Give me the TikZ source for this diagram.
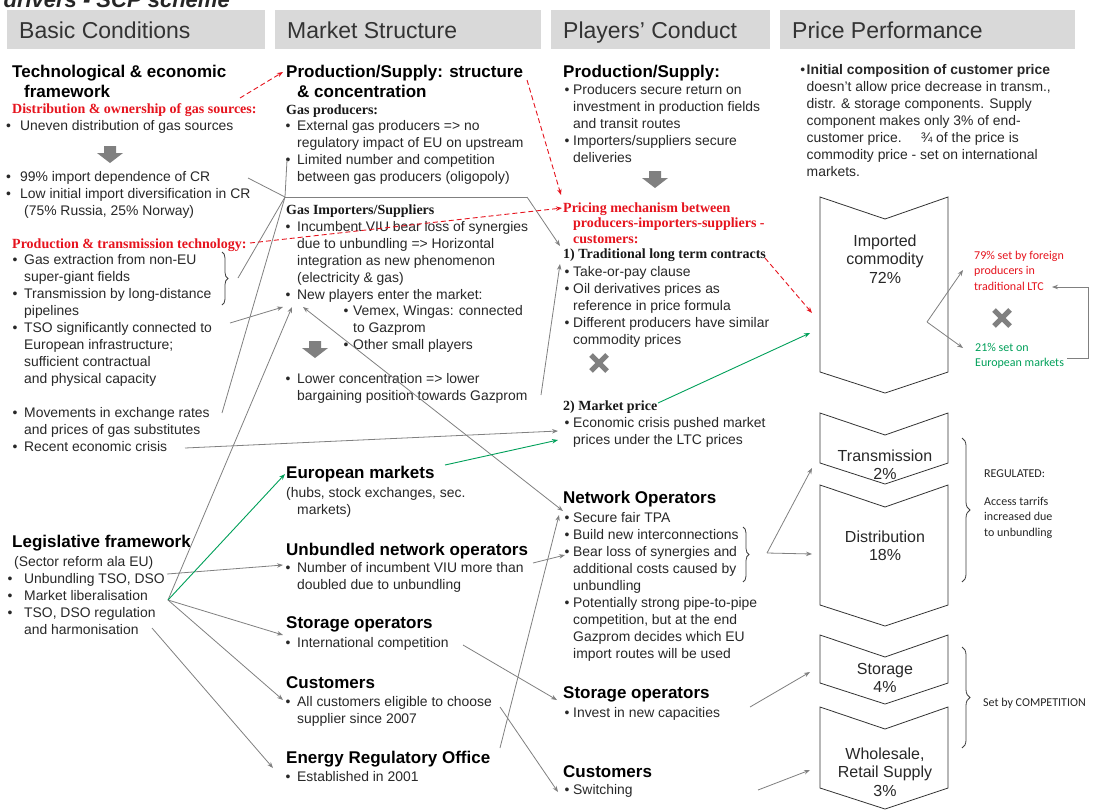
\documentclass[tikz,border=0pt]{standalone}
\usepackage{fontspec}
\setmainfont{Liberation Sans}
\newfontfamily\tnr{Liberation Serif}
\newfontfamily\calib{Carlito}
\usetikzlibrary{arrows.meta,decorations.pathreplacing}
\definecolor{hdr}{RGB}{217,217,217}
\definecolor{ln}{RGB}{128,128,128}
\definecolor{rd}{RGB}{230,20,30}
\definecolor{gr}{RGB}{0,160,90}
\definecolor{tx}{RGB}{40,40,40}
\newcommand\bwd{10}
\newcommand\bu{\makebox[\bwd pt][l]{•}}
\newcommand\ct{\hspace*{\bwd pt}}
\newcommand\chevron[2]{\draw[chev] (820,#1) -- (885,{#1+22}) -- (948,#1) -- (948,#2) -- (885,{#2+21}) -- (820,#2) -- cycle;}
\newcommand\blkdown[2]{\fill[ln] ({#1-6},#2) -- ({#1+6},#2) -- ({#1+6},{#2+7}) -- ({#1+13},{#2+7}) -- (#1,{#2+17}) -- ({#1-13},{#2+7}) -- ({#1-6},{#2+7}) -- cycle;}
\tikzset{
 bw/.code={\gdef\bwd{#1}},
 body/.style={font=\fontsize{13.9}{17}\selectfont, text=tx, align=left, inner sep=0pt, anchor=base west},
 head/.style={font=\fontsize{17}{20}\selectfont\bfseries, text=black, align=left, inner sep=0pt, anchor=base west},
 sub/.style={font=\tnr\fontsize{14}{15.5}\selectfont\bfseries, text=black!90, inner sep=0pt, anchor=base west, align=left},
 redsub/.style={sub, text=rd},
 hdrtxt/.style={font=\fontsize{23}{26}\selectfont, text=black!80, inner sep=0pt, anchor=base west},
 conn/.style={draw=ln, line width=0.8pt},
 arr/.style={conn, -{Stealth[length=6pt,width=4.5pt]}},
 darr/.style={conn, {Stealth[length=6pt,width=4.5pt]}-{Stealth[length=6pt,width=4.5pt]}},
 dred/.style={draw=rd, line width=0.9pt, dash pattern=on 5pt off 3pt, -{Stealth[length=6pt,width=4.5pt]}},
 grn/.style={draw=gr, line width=0.9pt, -{Stealth[length=6pt,width=4.5pt]}},
 chev/.style={draw=black!80, line width=0.8pt, fill=white},
 chevtxt/.style={font=\fontsize{16}{18.5}\selectfont, text=tx, align=center, inner sep=0pt, anchor=base},
 smallc/.style={font=\calib\fontsize{12}{15.5}\selectfont, inner sep=0pt, anchor=base west, align=left},
 xmark/.style={draw=ln, line width=5pt},
 brc/.style={draw=black!75, line width=0.8pt, decorate},
}
\begin{document}
\begin{tikzpicture}[x=1pt,y=-1pt]
\useasboundingbox (0,0) rectangle (1094,809);
\fill[white] (0,0) rectangle (1094,809);
% title (cut off at the top)
\node[font=\fontsize{22}{24}\selectfont\bfseries\itshape, text=black!85, anchor=base east, inner sep=0pt] (title) at (230,7) {drivers - SCP scheme};
% headers
\fill[hdr] (7,10) rectangle (265,49);
\fill[hdr] (275,10) rectangle (541,49);
\fill[hdr] (551,10) rectangle (770,49);
\fill[hdr] (780,10) rectangle (1075,49);
\node[hdrtxt] (h1) at (19,38) {Basic Conditions};
\node[hdrtxt] (h2) at (287,38) {Market Structure};
\node[hdrtxt] (h3) at (563,38) {Players' Conduct};
\node[hdrtxt] (h4) at (792,38) {Price Performance};

% ---------- column 1 (anchors are at the LAST line's baseline)
\node[head] (tech) at (12,97) {Technological \& economic\\\hspace*{12pt}framework};
\node[redsub] (distr) at (12,113) {Distribution \& ownership of gas sources:};
\node[body, bw=14] (uneven) at (6,130) {\bu Uneven distribution of gas sources};
\blkdown{110}{146}
\node[body, bw=14] (impd) at (6,215.5) {\bu 99\% import dependence of CR\\\bu Low initial import diversification in CR\\\hspace*{18pt}(75\% Russia, 25\% Norway)};
\node[redsub] (prodt) at (12,248) {Production \& transmission technology:};
\node[body, bw=11.5] (tsob) at (12.5,383.5) {\bu Gas extraction from non-EU\\\ct super-giant fields\\\bu Transmission by long-distance\\\ct pipelines\\\bu TSO significantly connected to\\\ct European infrastructure;\\\ct sufficient contractual\\\ct and physical capacity};
\draw[brc, decoration={brace, amplitude=6pt}] (222,252) -- (222,305);
\node[body, bw=11.5] (mov) at (12.5,451.5) {\bu Movements in exchange rates\\\ct and prices of gas substitutes\\\bu Recent economic crisis};
\node[head] (legis) at (12,547) {Legislative framework};
\node[body, bw=16.5] (legb) at (7.5,634) {\hspace*{6.5pt}(Sector reform ala EU)\\\bu Unbundling TSO, DSO\\\bu Market liberalisation\\\bu TSO, DSO regulation\\\ct and harmonisation};

% ---------- column 2
\node[head] (ps) at (286,97) {Production/Supply: structure\\\hspace*{11pt}\& concentration};
\node[sub] (gp) at (286,114) {Gas producers:};
\node[body, bw=11.5] (gpb) at (285.5,181.5) {\bu External gas producers => no\\\ct regulatory impact of EU on upstream\\\bu Limited number and competition\\\ct between gas producers (oligopoly)};
\node[sub] (gi) at (286,214) {Gas Importers/Suppliers};
\node[body, bw=11.5] (gib) at (285.5,299.5) {\bu Incumbent VIU bear loss of synergies\\\ct due to unbundling => Horizontal\\\ct integration as new phenomenon\\\ct (electricity \& gas)\\\bu New players enter the market:};
\node[body, bw=9.5] (vem) at (343.5,349.5) {\bu Vemex, Wingas: connected\\\ct to Gazprom\\\bu Other small players};
\blkdown{315}{341}
\node[body, bw=11.5] (low) at (285.5,400.5) {\bu Lower concentration => lower\\\ct bargaining position towards Gazprom};
\node[head] (eum) at (286,478) {European markets};
\node[body] (eumb) at (286,514.5) {(hubs, stock exchanges, sec.\\\hspace*{11pt}markets)};
\node[head] (uno) at (286,555) {Unbundled network operators};
\node[body, bw=11.5] (unob) at (285.5,589.5) {\bu Number of incumbent VIU more than\\\ct doubled due to unbundling};
\node[head] (so) at (286,628) {Storage operators};
\node[body, bw=11.5] (sob) at (285.5,647.5) {\bu International competition};
\node[head] (cu) at (286,688) {Customers};
\node[body, bw=11.5] (cub) at (285.5,723.5) {\bu All customers eligible to choose\\\ct supplier since 2007};
\node[head] (ero) at (286,763) {Energy Regulatory Office};
\node[body, bw=11.5] (erob) at (285.5,781.5) {\bu Established in 2001};

% ---------- column 3
\node[head] (ps3) at (563,77) {Production/Supply:};
\node[body, bw=8.5] (ps3b) at (564.5,162.5) {\bu Producers secure return on\\\ct investment in production fields\\\ct and transit routes\\\bu Importers/suppliers secure\\\ct deliveries};
\blkdown{655}{171}
\node[redsub] (pm) at (563,243) {Pricing mechanism between\\\hspace*{10pt}producers-importers-suppliers -\\\hspace*{10pt}customers:};
\node[sub] (ltc) at (563,258) {1) Traditional long term contracts};
\node[body, bw=8.5] (ltcb) at (564.5,344.5) {\bu Take-or-pay clause\\\bu Oil derivatives prices as\\\ct reference in price formula\\\bu Different producers have similar\\\ct commodity prices};
\draw[xmark] (591,355) -- (607,371);
\draw[xmark] (591,371) -- (607,355);
\node[sub] (mp) at (563,410) {2) Market price};
\node[body, bw=8.5] (mpb) at (564.5,444.5) {\bu Economic crisis pushed market\\\ct prices under the LTC prices};
\node[head] (no) at (563,503) {Network Operators};
\node[body, bw=8.5] (nob) at (564.5,658.5) {\bu Secure fair TPA\\\bu Build new interconnections\\\bu Bear loss of synergies and\\\ct additional costs caused by\\\ct unbundling\\\bu Potentially strong pipe-to-pipe\\\ct competition, but at the end\\\ct Gazprom decides which EU\\\ct import routes will be used};
\draw[brc, decoration={brace, amplitude=6pt}] (743,527) -- (743,582);
\node[head] (so3) at (563,698) {Storage operators};
\node[body, bw=8.5] (so3b) at (564.5,717.5) {\bu Invest in new capacities};
\node[head] (cu3) at (563,777) {Customers};
\node[body, bw=8.5] (cu3b) at (564.5,794.5) {\bu Switching};

% ---------- column 4
\node[body] (icp) at (806.5,176.5) {\llap{•\hspace{1.5pt}}\textbf{Initial composition of customer price}\\doesn't allow price decrease in transm.,\\distr. \& storage components. Supply\\component makes only 3\% of end-\\customer price.\hspace{1em} ¾ of the price is\\commodity price - set on international\\markets.};
\chevron{197}{372}
\node[chevtxt] (impc) at (885,283) {Imported\\commodity\\72\%};
\node[smallc, text=rd] (lt79) at (974,290) {79\% set by foreign\\producers in\\traditional LTC};
\node[smallc, text=gr] (eu21) at (975,366.5) {21\% set on\\European markets};
\draw[xmark] (994,310) -- (1010,326);
\draw[xmark] (994,326) -- (1010,310);
\chevron{413}{463}
\node[chevtxt] (trc) at (885,479.5) {Transmission\\2\%};
\chevron{485}{605}
\node[chevtxt] (dic) at (885,560.5) {Distribution\\18\%};
\chevron{635}{683}
\node[chevtxt] (stc) at (885,692.5) {Storage\\4\%};
\chevron{707}{788}
\node[chevtxt] (whc) at (885,796) {Wholesale,\\Retail Supply\\3\%};
\draw[brc, decoration={brace, amplitude=8pt}] (962,438) -- (962,582);
\draw[brc, decoration={brace, amplitude=8pt}] (962,647) -- (962,748);
\node[smallc, text=black!85] (reg) at (984,477) {REGULATED:};
\node[smallc, text=black!85] (acc) at (984,536) {Access tarrifs\\increased due\\to unbundling};
\node[smallc, text=black!85] (comp) at (983,706) {Set by COMPETITION};

% ---------- connector end points
\coordinate (hub) at (168,600);
\coordinate (cr) at (248,178);
\coordinate (lim) at (287,160);
\coordinate (br1) at (238,278);
\coordinate (rates) at (222,413);
\coordinate (busL) at (285,197);
\coordinate (busR) at (527,197);
\coordinate (ltcA) at (560,246);
\coordinate (gaz) at (541,395);
\coordinate (topA) at (560,264);
\coordinate (tsoE) at (230,323);
\coordinate (np1) at (283,307);
\coordinate (np2) at (292,307);
\coordinate (np3) at (303,307);
\coordinate (tpa) at (563,511);
\coordinate (crisis) at (185,448);
\coordinate (ecA) at (558,431);
\coordinate (soA) at (283,635);
\coordinate (cuA) at (283,700);
\coordinate (dso) at (167,574);
\coordinate (unoA) at (283,565);
\coordinate (harm) at (152,628);
\coordinate (eroA) at (273,768);
\coordinate (eroE) at (500,748);
\coordinate (tpa2) at (559,515);
\coordinate (viuE) at (533,563);
\coordinate (bear) at (565,555);
\coordinate (intE) at (463,645);
\coordinate (so3A) at (557,700);
\coordinate (cuE) at (500,707);
\coordinate (swA) at (558,792);
\coordinate (nobr) at (767,553);
\coordinate (trA) at (812,468);
\coordinate (diA) at (812,554);
\coordinate (capE) at (750,707);
\coordinate (stA) at (810,672);
\coordinate (swE) at (758,790);
\coordinate (whA) at (810,770);
\coordinate (split) at (927,322);
\coordinate (ltcT) at (963,270);
\coordinate (eumT) at (963,348);
\coordinate (loopS) at (1067,358);
\coordinate (loopE) at (1052,287);
\coordinate (fwE) at (240,98);
\coordinate (psA) at (283,72);
\coordinate (psE) at (527,80);
\coordinate (pmA1) at (561,195);
\coordinate (techE) at (250,243);
\coordinate (pmA2) at (562,208);
\coordinate (ltcE) at (765,258);
\coordinate (impA1) at (812,313);
\coordinate (eumA) at (285,474);
\coordinate (eumE) at (445,465);
\coordinate (mpA) at (558,440);
\coordinate (mpE) at (658,403);
\coordinate (impA2) at (810,333);

% ---------- gray connectors
\draw[conn] (cr) -- (busL);
\draw[conn] (lim) -- (busL);
\draw[conn] (br1) -- (busL);
\draw[conn] (rates) -- (busL);
\draw[conn] (busL) -- (busR);
\draw[arr] (busR) -- (ltcA);
\draw[arr] (gaz) -- (topA);
\draw[arr] (tsoE) -- (np1);
\draw[arr] (hub) -- (np2);
\draw[darr] (np3) -- (tpa);
\draw[arr] (crisis) -- (ecA);
\draw[arr] (hub) -- (soA);
\draw[arr] (hub) -- (cuA);
\draw[arr] (dso) -- (unoA);
\draw[arr] (harm) -- (eroA);
\draw[arr] (eroE) -- (tpa2);
\draw[arr] (viuE) -- (bear);
\draw[arr] (intE) -- (so3A);
\draw[arr] (cuE) -- (swA);
\draw[arr] (nobr) -- (trA);
\draw[arr] (nobr) -- (diA);
\draw[arr] (capE) -- (stA);
\draw[arr] (swE) -- (whA);
\draw[arr] (split) -- (ltcT);
\draw[arr] (split) -- (eumT);
\draw[arr] (loopS) -- ++(21,0) |- (loopE);
% ---------- red dashed connectors
\draw[dred] (fwE) -- (psA);
\draw[dred] (psE) -- (pmA1);
\draw[dred] (techE) -- (pmA2);
\draw[dred] (ltcE) -- (impA1);
% ---------- green connectors
\draw[grn] (hub) -- (eumA);
\draw[grn] (eumE) -- (mpA);
\draw[grn] (mpE) -- (impA2);
\end{tikzpicture}
\end{document}
